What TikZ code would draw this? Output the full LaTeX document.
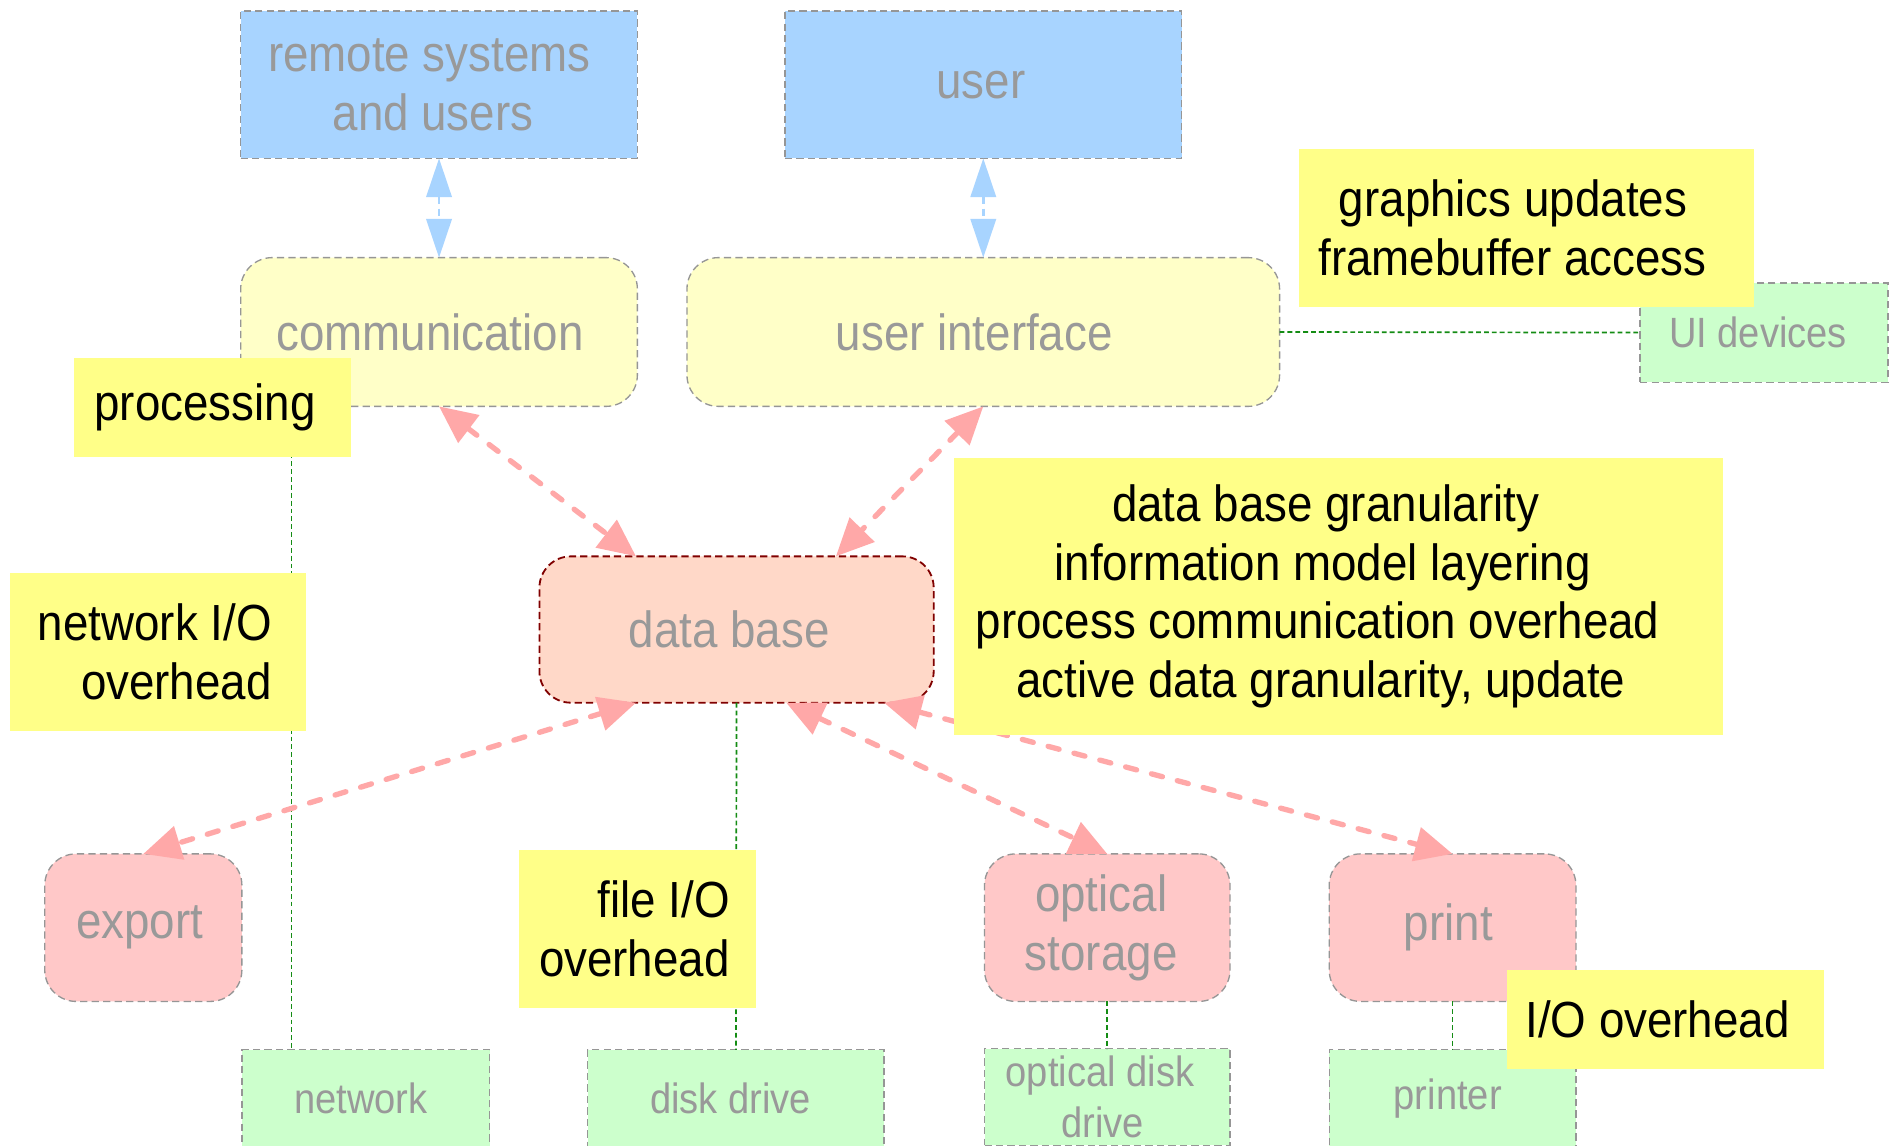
\documentclass[tikz,border=0pt]{standalone}
\usepackage{fontspec}
\setmainfont[FakeStretch=0.9]{Liberation Sans}
\usetikzlibrary{arrows.meta,calc}
\definecolor{blueF}{RGB}{168,212,255}
\definecolor{yelF}{RGB}{255,255,200}
\definecolor{dbF}{RGB}{255,216,200}
\definecolor{pinkF}{RGB}{255,200,200}
\definecolor{greenF}{RGB}{204,255,204}
\definecolor{noteF}{RGB}{255,255,136}
\definecolor{txtG}{RGB}{153,153,153}
\definecolor{arrP}{RGB}{255,168,168}
\definecolor{arrB}{RGB}{168,212,255}
\definecolor{lnG}{RGB}{20,140,20}
\definecolor{bdrG}{RGB}{150,150,150}
\definecolor{dbB}{RGB}{128,0,0}
\newcommand\dgBig{\fontsize{42}{48.5}\selectfont}
\newcommand\dgSmall{\fontsize{35}{42}\selectfont}
% shift a centred line to the left by half the argument (in pt)
\newcommand\dgLeft[1]{\hspace*{-#1pt}}
\newcommand\dgPad[1]{\hspace*{#1pt}}
\begin{document}
\begin{tikzpicture}[x=1pt,y=-1pt,
  base/.style={inner sep=0pt, outer sep=0pt, font=\dgBig, text=txtG, align=center},
  gbox/.style={base, draw=bdrG, line width=1.1pt, dash pattern=on 6pt off 3.5pt},
  sqbox/.style={gbox},
  rbox/.style={gbox, rounded corners=26pt},
  devbox/.style={gbox, fill=greenF, font=\dgSmall},
  note/.style={inner sep=0pt, outer sep=0pt, fill=noteF, text=black, font=\dgBig},
  pinkarr/.style={draw=arrP, line width=4.4pt, line cap=round, dash pattern=on 9.4pt off 12.7pt,
     {Triangle[length=31pt,width=28pt]}-{Triangle[length=31pt,width=28pt]}},
  bluearr/.style={draw=arrB, line width=2pt, dash pattern=on 6pt off 4pt,
     {Triangle[length=32pt,width=21pt]}-{Triangle[length=32pt,width=21pt]}},
  glink/.style={draw=lnG, line width=1.4pt, dash pattern=on 4pt off 2.5pt}
]
\useasboundingbox (0,0) rectangle (1566,947);
\fill[white] (0,0) rectangle (1566,947);

% main nodes
\node[sqbox, fill=blueF, minimum width=328pt, minimum height=122pt] (remote) at (363,70) {\dgLeft{16}remote systems\\\dgLeft{10}and users};
\node[sqbox, fill=blueF, minimum width=328pt, minimum height=122pt] (user) at (813,70) {\dgLeft{4}user};
\node[rbox, fill=yelF, minimum width=328pt, minimum height=123pt] (comm) at (363,274.5) {\dgLeft{15}communication};
\node[rbox, fill=yelF, minimum width=490pt, minimum height=123pt] (ui) at (813,274.5) {\dgLeft{15}user interface};
\node[rbox, fill=dbF, draw=dbB, line width=1.5pt, dash pattern=on 6pt off 3.3pt, minimum width=326pt, minimum height=121pt] (db) at (609,520.5) {\dgLeft{12}data base};
\node[rbox, fill=pinkF, minimum width=163pt, minimum height=122pt] (export) at (118.5,767) {\dgLeft{6}export};
\node[rbox, fill=pinkF, minimum width=203pt, minimum height=122pt] (optical) at (915.5,767) {\dgLeft{10}optical\\\dgLeft{10}storage};
\node[rbox, fill=pinkF, minimum width=204pt, minimum height=122pt] (print) at (1201,767) {\dgLeft{7}print};

% device nodes
\node[devbox, minimum width=205pt, minimum height=82pt] (uidev) at (1458.5,275) {\dgLeft{10}UI devices};
\node[devbox, minimum width=205pt, minimum height=80pt] (net) at (302.5,908) {\dgLeft{8}network};
\node[devbox, minimum width=245pt, minimum height=80pt] (disk) at (608.5,908) {\dgLeft{9}disk drive};
\node[devbox, minimum width=203pt, minimum height=80pt] (odd) at (915.5,907) {\dgLeft{12}optical disk\\\dgLeft{8}drive};
\node[devbox, minimum width=204pt, minimum height=80pt] (printer) at (1201,908) {\dgLeft{8}printer};

% green links
\draw[glink] ([xshift=42pt]comm.south west) -- ([xshift=41pt]net.north west);
\draw[glink] (db.south) -- (disk.north);
\draw[glink] (ui.east) -- (uidev.west);
\draw[glink] (optical.south) -- (odd.north);
\draw[glink] (print.south) -- (printer.north);

% blue arrows
\draw[bluearr] (remote.south) -- (comm.north);
\draw[bluearr] (user.south) -- (ui.north);

% pink arrows
\draw[pinkarr] (comm.south) -- ($(db.north west)!0.245!(db.north east)$);
\draw[pinkarr] (ui.south) -- ($(db.north west)!0.752!(db.north east)$);
\draw[pinkarr] ($(db.south west)!0.245!(db.south east)$) -- (export.north);
\draw[pinkarr] ($(db.south west)!0.626!(db.south east)$) -- (optical.north);
\draw[pinkarr] ($(db.south west)!0.874!(db.south east)$) -- (print.north);

% notes
\node[note, align=center, minimum width=376pt, minimum height=131pt] (gfx) at (1262,188.5) {\dgLeft{22}graphics updates\\\dgLeft{23}framebuffer access};
\node[note, align=center, minimum width=229pt, minimum height=82pt] (proc) at (175.5,337) {\dgLeft{12}processing};
\node[note, align=right, minimum width=245pt, minimum height=131pt] (netio) at (130.5,539) {network I/O\dgPad{5}\\overhead\dgPad{5}};
\node[note, align=right, minimum width=196pt, minimum height=131pt] (fileio) at (527,768) {file I/O\dgPad{5}\\overhead\dgPad{5}};
\node[note, align=center, minimum width=636pt, minimum height=229pt] (dbgran) at (1107,493) {\dgLeft{22}data base granularity\\\dgLeft{27}information model layering\\\dgLeft{35}process communication overhead\\\dgLeft{30}active data granularity, update};
\node[note, align=center, minimum width=262pt, minimum height=82pt] (ioover) at (1377,843) {\dgLeft{13}I/O overhead};
\end{tikzpicture}
\end{document}
